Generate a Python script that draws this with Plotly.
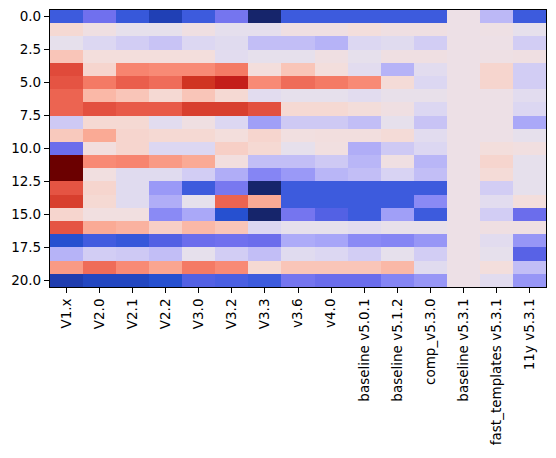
import plotly.graph_objects as go

versions = ["V1.x", "V2.0", "V2.1", "V2.2", "V3.0", "V3.2", "V3.3", "v3.6", "v4.0",
            "baseline v5.0.1", "baseline v5.1.2", "comp_v5.3.0", "baseline v5.3.1",
            "fast_templates v5.3.1", "11y v5.3.1"]

row_0 = [-0.7, -0.5, -0.72, -0.85, -0.7, -0.48, -1.0, -0.7, -0.7, -0.7, -0.7, -0.7, 0, -0.24, -0.7]
row_1 = [0.1, 0.02, -0.03, -0.03, 0.02, -0.04, -0.04, 0.02, 0.02, 0.05, 0.02, 0.02, 0, 0.01, -0.03]
row_2 = [-0.03, -0.1, -0.15, -0.2, -0.1, -0.07, -0.22, -0.22, -0.26, -0.1, -0.07, -0.15, 0, 0, -0.15]
row_3 = [0.2, 0.05, 0.05, 0.05, 0.05, -0.06, -0.03, -0.03, 0.02, -0.03, 0.02, 0.02, 0, 0.01, 0.02]
row_4 = [0.7, 0.12, 0.45, 0.42, 0.42, 0.5, 0.05, 0.2, 0.05, -0.06, -0.26, -0.06, 0, 0.12, -0.15]
row_5 = [0.65, 0.5, 0.6, 0.55, 0.8, 0.9, 0.42, 0.55, 0.5, 0.42, 0.08, -0.1, 0, 0.12, -0.15]
row_6 = [0.58, 0.25, 0.2, 0.1, 0.2, 0.1, -0.06, -0.03, -0.03, -0.06, -0.02, -0.02, 0, 0, -0.06]
row_7 = [0.58, 0.67, 0.62, 0.62, 0.75, 0.75, 0.67, 0.1, 0.1, 0.06, 0.02, -0.1, 0, 0, -0.1]
row_8 = [-0.17, 0.1, 0.1, -0.06, 0.02, -0.1, -0.33, -0.17, -0.17, -0.22, -0.03, -0.2, 0, 0, -0.3]
row_9 = [0.18, 0.3, 0.12, 0.1, 0.1, 0.05, 0.12, 0.03, 0.04, 0.04, 0.08, -0.06, 0, 0, -0.03]
row_10 = [-0.52, 0.04, 0.12, -0.1, -0.1, 0.15, 0.1, -0.03, 0.03, -0.28, -0.17, -0.1, 0, 0.05, 0.03]
row_11 = [1.0, 0.42, 0.45, 0.36, 0.3, 0.04, -0.22, -0.22, -0.17, -0.25, 0.02, -0.25, 0, 0.12, -0.03]
row_12 = [1.0, 0.03, -0.07, -0.07, -0.15, -0.28, -0.42, -0.35, -0.25, -0.22, -0.12, -0.22, 0, 0.08, -0.03]
row_13 = [0.65, 0.12, -0.07, -0.35, -0.7, -0.47, -1.0, -0.7, -0.7, -0.7, -0.7, -0.7, 0, -0.15, -0.03]
row_14 = [0.75, 0.1, -0.07, -0.28, -0.03, 0.58, 0.3, -0.7, -0.7, -0.7, -0.7, -0.4, 0, -0.06, 0.05]
row_15 = [0.12, 0.03, 0.03, -0.4, -0.3, -0.78, -1.0, -0.48, -0.62, -0.7, -0.33, -0.7, 0, -0.15, -0.52]
row_16 = [0.65, 0.3, 0.27, 0.15, 0.25, 0.2, -0.1, -0.03, -0.03, -0.06, -0.02, -0.02, 0, 0.02, 0.02]
row_17 = [-0.78, -0.68, -0.72, -0.62, -0.52, -0.5, -0.52, -0.29, -0.31, -0.4, -0.42, -0.36, 0, -0.06, -0.36]
row_18 = [-0.26, -0.15, -0.17, -0.22, -0.03, -0.15, -0.22, -0.07, -0.1, -0.15, -0.03, -0.15, 0, -0.03, -0.6]
row_19 = [0.36, 0.55, 0.42, 0.32, 0.5, 0.42, 0.1, 0.2, 0.2, 0.2, 0.25, -0.07, 0, 0.05, -0.22]
row_20 = [-0.87, -0.82, -0.82, -0.78, -0.62, -0.65, -0.7, -0.48, -0.52, -0.52, -0.42, -0.36, 0, -0.06, -0.36]

z = [row_0, row_1, row_2, row_3, row_4, row_5, row_6, row_7, row_8, row_9, row_10,
     row_11, row_12, row_13, row_14, row_15, row_16, row_17, row_18, row_19, row_20]

ytick_vals = [0, 2.5, 5, 7.5, 10, 12.5, 15, 17.5, 20]

# diverging scale, navy -> blue -> pinkish white -> red -> maroon
stops = [(-1.0, "#16256B"), (-0.92, "#1C35A0"), (-0.85, "#2040B5"), (-0.78, "#2650D0"),
         (-0.7, "#3D5BDD"), (-0.6, "#5862E6"), (-0.5, "#7070EE"), (-0.4, "#8A8AF5"),
         (-0.3, "#AAA8F8"), (-0.2, "#C8C3F5"), (-0.1, "#DCD7F2"), (-0.03, "#E6E0EC"),
         (0.0, "#EDE0E6"), (0.05, "#F3DEDC"), (0.1, "#F5D9D3"), (0.2, "#F9C5B8"),
         (0.3, "#FAAA95"), (0.42, "#F88A75"), (0.5, "#F47A65"), (0.6, "#EA5E4C"),
         (0.7, "#E04A3A"), (0.8, "#D03422"), (0.9, "#C41E1A"), (0.95, "#9A1010"),
         (1.0, "#6B0000")]
colorscale = [[(v + 1) / 2, c] for v, c in stops]

fig = go.Figure(go.Heatmap(
    z=z,
    x=list(range(len(versions))),
    y=list(range(len(z))),
    colorscale=colorscale,
    zmin=-1, zmax=1,
    showscale=False,
    xgap=0, ygap=0,
))

axis_style = dict(showline=True, linecolor="black", linewidth=1.2, mirror=True,
                  ticks="outside", ticklen=5, tickwidth=1, tickcolor="black",
                  showgrid=False, zeroline=False, automargin=False,
                  tickfont=dict(family="DejaVu Sans", size=13.5, color="black"))

fig.update_xaxes(range=[-0.5, len(versions) - 0.5], tickvals=list(range(len(versions))),
                 ticktext=versions, tickangle=-90, **axis_style)
fig.update_yaxes(range=[len(z) - 0.5, -0.5], tickvals=ytick_vals,
                 ticktext=[f"{v:.1f}" for v in ytick_vals], **axis_style)

# page body has an 8px margin, so the figure is sized to fit inside it
fig.update_layout(
    width=540, height=442,
    margin=dict(l=42, r=2, t=2, b=163),
    paper_bgcolor="white", plot_bgcolor="white",
    font=dict(family="DejaVu Sans", size=13.5, color="black"),
)

fig.write_html("out.html")
